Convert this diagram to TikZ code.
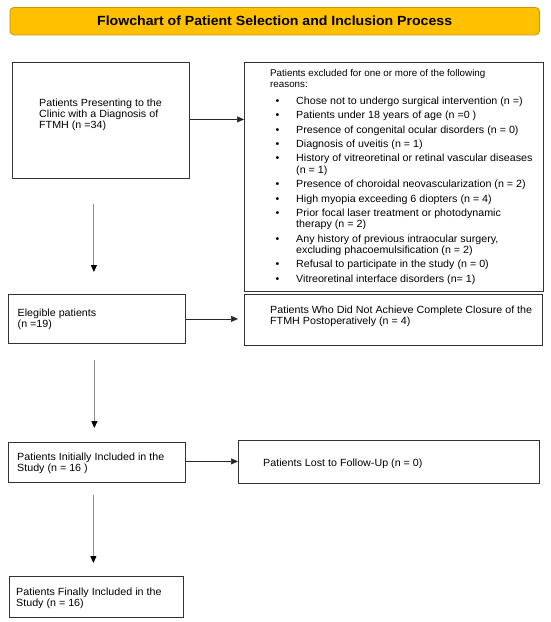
\documentclass[tikz,border=0pt]{standalone}
\usepackage{fontspec}
\setmainfont{Liberation Sans}
\newfontfamily\widef[FakeStretch=1.03]{Liberation Sans}
\newfontfamily\titlef[FakeStretch=1.06]{Liberation Sans}
\usetikzlibrary{arrows.meta}
\definecolor{gold}{HTML}{FFC000}
\definecolor{golddark}{HTML}{C99700}
\definecolor{boxline}{HTML}{333333}
\definecolor{vline}{HTML}{8C8C8C}
\newcommand{\blt}{\hspace*{5.5pt}\makebox[20.5pt][l]{\textbullet}}
\newcommand{\blc}{\hspace*{26pt}}
\newcommand{\plainf}{\normalfont\fontsize{9.8}{11.3}\selectfont}
\begin{document}
\begin{tikzpicture}[x=1pt,y=-1pt]
\tikzset{
 box/.style={draw=boxline, line width=0.8pt, inner sep=0pt, anchor=north west, fill=white},
 titlebar/.style={draw=golddark, fill=gold, line width=0.8pt, rounded corners=4pt, inner sep=0pt, anchor=north west, font=\titlef\fontsize{13.3}{16}\selectfont\bfseries},
 txt/.style={anchor=base west, inner sep=0pt, align=left, font=\widef\fontsize{10.4}{11.2}\selectfont},
 listtxt/.style={txt, font=\widef\fontsize{10.4}{11.3}\selectfont},
 harrow/.style={draw=black!85, line width=0.6pt, -{Triangle[length=7pt,width=6pt]}},
 varrow/.style={draw=vline, line width=1pt, -{Triangle[length=7pt,width=6pt,color=black]}}
}
\useasboundingbox (0,0) rectangle (550,622);
\fill[white] (0,0) rectangle (550,622);

\node[titlebar, minimum width=529.5pt, minimum height=27.5pt] (title) at (9.5,7) {Flowchart of Patient Selection and Inclusion Process};

\node[box, minimum width=177pt, minimum height=116pt] (b1) at (12,62) {};
\node[box, minimum width=299pt, minimum height=229pt] (b2) at (244,62) {};
\node[box, minimum width=177pt, minimum height=49pt] (b3) at (8,294) {};
\node[box, minimum width=298pt, minimum height=51pt] (b4) at (244,294) {};
\node[box, minimum width=177pt, minimum height=40pt] (b5) at (8,442) {};
\node[box, minimum width=301pt, minimum height=43pt] (b6) at (238,440) {};
\node[box, minimum width=174pt, minimum height=41pt] (b7) at (9,576) {};

\node[txt] (t1) at (39,128.4) {Patients Presenting to the\\Clinic with a Diagnosis of\\FTMH (n =34)};
\node[listtxt] (t2) at (270,282.2) {{\plainf Patients excluded for one or more of the following}\\{\plainf reasons:}\\[5.7pt]
\blt Chose not to undergo surgical intervention (n =)\\[3.1pt]
\blt Patients under 18 years of age (n =0 )\\[3.1pt]
\blt Presence of congenital ocular disorders (n = 0)\\[3.1pt]
\blt Diagnosis of uveitis (n = 1)\\[3.1pt]
\blt History of vitreoretinal or retinal vascular diseases\\
\blc (n = 1)\\[3.1pt]
\blt Presence of choroidal neovascularization (n = 2)\\[3.1pt]
\blt High myopia exceeding 6 diopters (n = 4)\\[3.1pt]
\blt Prior focal laser treatment or photodynamic\\
\blc therapy (n = 2)\\[3.1pt]
\blt Any history of previous intraocular surgery,\\
\blc excluding phacoemulsification (n = 2)\\[3.1pt]
\blt Refusal to participate in the study (n = 0)\\[3.1pt]
\blt Vitreoretinal interface disorders (n= 1)};
\node[txt] (t3) at (17.5,327.7) {Elegible patients\\(n =19)};
\node[txt] (t4) at (270,324.2) {Patients Who Did Not Achieve Complete Closure of the\\FTMH Postoperatively (n = 4)};
\node[txt] (t5) at (17,471.2) {Patients Initially Included in the\\Study (n = 16 )};
\node[txt] (t6) at (263,466) {Patients Lost to Follow-Up (n = 0)};
\node[txt] (t7) at (16,606.2) {Patients Finally Included in the\\Study (n = 16)};

\draw[harrow] ([yshift=1pt]b1.east) -- ([yshift=1pt]b1.east -| b2.west);
\draw[harrow] (b3.east) -- ([xshift=-6pt]b3.east -| b4.west);
\draw[harrow] ([yshift=1pt]b5.east) -- ([yshift=1pt]b5.east -| b6.west);

\draw[varrow] ([xshift=-7pt,yshift=-25pt]b1.south) -- ([xshift=-3pt,yshift=22pt]b3.north);
\draw[varrow] ([xshift=-2.5pt,yshift=-16pt]b3.south) -- ([xshift=-2.5pt,yshift=14pt]b5.north);
\draw[varrow] ([xshift=-3.5pt,yshift=-12pt]b5.south) -- ([xshift=-3pt,yshift=13pt]b7.north);
\end{tikzpicture}
\end{document}
